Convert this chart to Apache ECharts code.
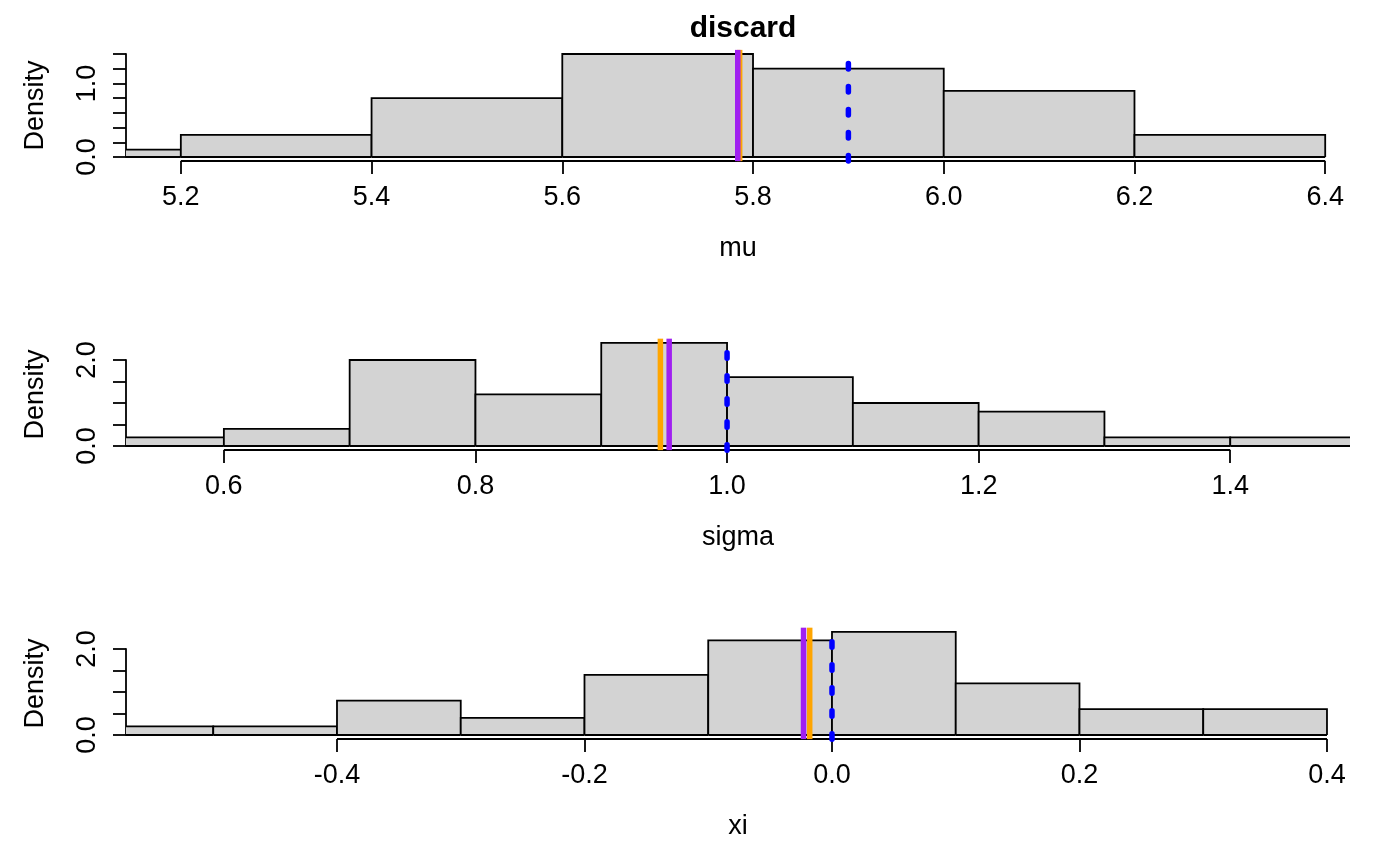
<!DOCTYPE html>
<html>
<head>
<meta charset="utf-8">
<script src="https://cdn.jsdelivr.net/npm/echarts@6/dist/echarts.min.js"></script>
<style>
  html, body { margin: 0; padding: 0; background: #ffffff; }
  #chart { width: 1400px; height: 866px; }
</style>
</head>
<body>
<div id="chart"></div>
<script>
// ---------- data ----------
const titleText = 'discard';
const panelNames = ['mu', 'sigma', 'xi'];

const muBreaks = [5.0, 5.2, 5.4, 5.6, 5.8, 6.0, 6.2, 6.4];
const muDensity = [0.1, 0.3, 0.8, 1.4, 1.2, 0.9, 0.3];
const muXlim = [5.1425, 6.426];
const muXTicks = [5.2, 5.4, 5.6, 5.8, 6.0, 6.2, 6.4];
const muYTicks = [0, 0.2, 0.4, 0.6, 0.8, 1.0, 1.2, 1.4];
const muYLabels = [0, 1.0];
const muLines = [5.786, 5.784, 5.9]; // orange, purple, blue

const sigmaBreaks = [0.5, 0.6, 0.7, 0.8, 0.9, 1.0, 1.1, 1.2, 1.3, 1.4, 1.5];
const sigmaDensity = [0.2, 0.4, 2.0, 1.2, 2.4, 1.6, 1.0, 0.8, 0.2, 0.2];
const sigmaXlim = [0.5222, 1.4952];
const sigmaXTicks = [0.6, 0.8, 1.0, 1.2, 1.4];
const sigmaYTicks = [0, 0.5, 1.0, 1.5, 2.0];
const sigmaYLabels = [0, 2.0];
const sigmaLines = [0.947, 0.954, 1.0];

const xiBreaks = [-0.6, -0.5, -0.4, -0.3, -0.2, -0.1, 0.0, 0.1, 0.2, 0.3, 0.4];
const xiDensity = [0.2, 0.2, 0.8, 0.4, 1.4, 2.2, 2.4, 1.2, 0.6, 0.6];
const xiXlim = [-0.5705, 0.4186];
const xiXTicks = [-0.4, -0.2, 0.0, 0.2, 0.4];
const xiYTicks = [0, 0.5, 1.0, 1.5, 2.0];
const xiYLabels = [0, 2.0];
const xiLines = [-0.018, -0.023, 0.0];

const lineColors = ['#FFA500', '#A020F0', '#0000FF'];

// ---------- layout / style ----------
const FONT = 'Liberation Sans, Arial, Helvetica, sans-serif';
const FS = 27;
const LW = 1.8;
const REF_LW = 5.5;
const AXIS_OFFSET = 4;
const gridBoxes = [
  { top: 54, height: 103, namePad: 0 },
  { top: 360, height: 86, namePad: 17 },
  { top: 649, height: 86, namePad: 17 }
];

const panels = [
  { name: panelNames[0], breaks: muBreaks, dens: muDensity, xlim: muXlim, xt: muXTicks, yt: muYTicks, yl: muYLabels, lines: muLines },
  { name: panelNames[1], breaks: sigmaBreaks, dens: sigmaDensity, xlim: sigmaXlim, xt: sigmaXTicks, yt: sigmaYTicks, yl: sigmaYLabels, lines: sigmaLines },
  { name: panelNames[2], breaks: xiBreaks, dens: xiDensity, xlim: xiXlim, xt: xiXTicks, yt: xiYTicks, yl: xiYLabels, lines: xiLines }
];

const grids = [], xAxes = [], yAxes = [], series = [];

panels.forEach((p, i) => {
  const box = gridBoxes[i];
  grids.push({ left: 126, right: 50, top: box.top, height: box.height, containLabel: false });
  const fmt = v => Number(v).toFixed(1);
  xAxes.push({
    type: 'value', gridIndex: i, min: p.xlim[0], max: p.xlim[1],
    position: 'bottom', offset: AXIS_OFFSET,
    axisLine: { show: false, onZero: false },
    splitLine: { show: false },
    axisTick: { show: true, inside: false, length: 13, customValues: p.xt, lineStyle: { color: '#000', width: LW } },
    axisLabel: { show: true, customValues: p.xt, formatter: fmt, margin: 23, color: '#000', fontSize: FS, fontFamily: FONT },
    name: p.name, nameLocation: 'middle', nameGap: 88,
    nameTextStyle: { color: '#000', fontSize: FS, fontFamily: FONT, verticalAlign: 'middle' }
  });
  const ytop = p.yt[p.yt.length - 1];
  yAxes.push({
    type: 'value', gridIndex: i, min: 0, max: ytop,
    position: 'left',
    axisLine: { show: true, onZero: false, lineStyle: { color: '#000', width: LW } },
    splitLine: { show: false },
    axisTick: { show: true, inside: false, length: 13, customValues: p.yt, lineStyle: { color: '#000', width: LW } },
    axisLabel: { show: true, customValues: p.yl, formatter: fmt, rotate: 90, margin: 25, color: '#000', fontSize: FS, fontFamily: FONT },
    name: 'Density', nameLocation: 'middle', nameGap: 90,
    nameTextStyle: { color: '#000', fontSize: FS, fontFamily: FONT, verticalAlign: 'middle', padding: [0, 0, 0, box.namePad] }
  });

  const bins = p.dens.map((d, k) => [p.breaks[k], p.breaks[k + 1], d]);
  const xmin = p.xlim[0], xmax = p.xlim[1];
  series.push({
    type: 'custom', xAxisIndex: i, yAxisIndex: i, clip: false, z: 2,
    data: bins,
    renderItem: function (params, api) {
      const s = api.value(0), e = api.value(1), d = api.value(2);
      const x0 = Math.max(s, xmin), x1 = Math.min(e, xmax);
      if (x1 <= x0) return null;
      const a = api.coord([x0, 0]);
      const b = api.coord([x1, d]);
      const pts = [];
      if (s >= xmin) pts.push([a[0], a[1]]);
      pts.push([a[0], b[1]]);
      pts.push([b[0], b[1]]);
      if (e <= xmax) pts.push([b[0], a[1]]);
      return {
        type: 'group',
        children: [
          { type: 'rect', shape: { x: a[0], y: b[1], width: b[0] - a[0], height: a[1] - b[1] }, style: { fill: '#D3D3D3' } },
          { type: 'polyline', shape: { points: pts }, style: { stroke: '#000', lineWidth: LW, fill: null } },
          { type: 'line', shape: { x1: a[0], y1: a[1], x2: b[0], y2: a[1] }, style: { stroke: '#000', lineWidth: LW } }
        ]
      };
    }
  });

  // x axis line from first to last tick
  series.push({
    type: 'custom', xAxisIndex: i, yAxisIndex: i, clip: false, z: 3, silent: true,
    data: [[p.xt[0], p.xt[p.xt.length - 1]]],
    renderItem: function (params, api) {
      const a = api.coord([api.value(0), 0]);
      const b = api.coord([api.value(1), 0]);
      return { type: 'line', shape: { x1: a[0], y1: a[1] + AXIS_OFFSET, x2: b[0], y2: b[1] + AXIS_OFFSET }, style: { stroke: '#000', lineWidth: LW } };
    }
  });

  // vertical reference lines spanning the plot region (R's usr range)
  const ymaxData = Math.max.apply(null, p.dens);
  series.push({
    type: 'custom', xAxisIndex: i, yAxisIndex: i, clip: false, z: 4, silent: true,
    data: p.lines.map((v, k) => [v, k]),
    renderItem: function (params, api) {
      const k = api.value(1);
      const a = api.coord([api.value(0), -0.04 * ymaxData]);
      const b = api.coord([api.value(0), 1.04 * ymaxData]);
      const style = { stroke: lineColors[k], lineWidth: REF_LW };
      if (k === 2) { style.lineDash = [5.5, 17.5]; style.lineCap = 'round'; }
      return { type: 'line', shape: { x1: a[0], y1: a[1], x2: b[0], y2: b[1] }, style: style };
    }
  });
});

const chart = echarts.init(document.getElementById('chart'), null, { renderer: 'canvas' });
chart.setOption({
  animation: false,
  backgroundColor: '#ffffff',
  title: {
    text: titleText, left: 738, top: 9, textAlign: 'center',
    textStyle: { fontFamily: FONT, fontSize: 30, fontWeight: 'bold', color: '#000' }
  },
  grid: grids,
  xAxis: xAxes,
  yAxis: yAxes,
  series: series
});
</script>
</body>
</html>
